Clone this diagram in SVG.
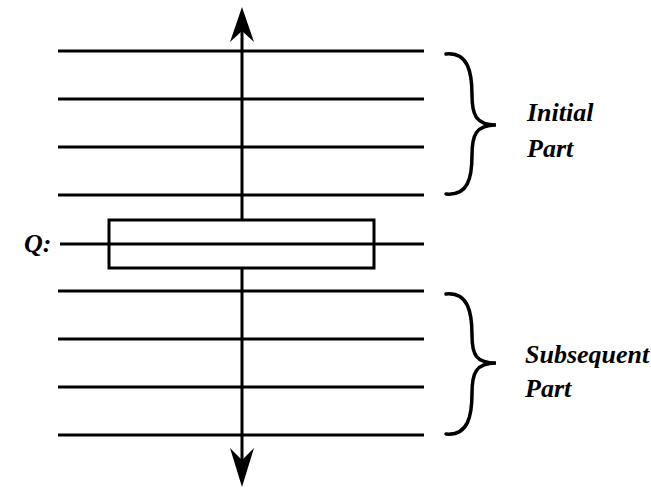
<svg xmlns="http://www.w3.org/2000/svg" width="651" height="489" viewBox="0 0 651 489">
<style>
.ln{stroke:#000;stroke-width:3;fill:none}
.br{stroke:#000;stroke-width:3.5;fill:none;stroke-linecap:round}
.lbl{font-family:"Liberation Serif",serif;font-style:italic;font-weight:bold;font-size:26px;fill:#000}
</style>
<rect width="651" height="489" fill="#fff"/>
<g id="lines">
<line class="ln" x1="58" y1="51" x2="424" y2="51"/>
<line class="ln" x1="58" y1="99" x2="424" y2="99"/>
<line class="ln" x1="58" y1="147" x2="424" y2="147"/>
<line class="ln" x1="58" y1="195" x2="424" y2="195"/>
<line class="ln" x1="58" y1="291" x2="424" y2="291"/>
<line class="ln" x1="58" y1="339" x2="424" y2="339"/>
<line class="ln" x1="58" y1="387" x2="424" y2="387"/>
<line class="ln" x1="58" y1="435" x2="424" y2="435"/>
</g>
<g id="connectors">
<line class="ln" x1="242" y1="25" x2="242" y2="470"/>
<path d="M242,7 L254,42 L242,31 L230,42 Z" fill="#000"/>
<path d="M242,487 L254,448 L242,460 L230,448 Z" fill="#000"/>
</g>
<g id="q-box">
<rect x="109" y="220" width="265" height="48" fill="#fff" stroke="#000" stroke-width="3"/>
<line class="ln" x1="60" y1="244" x2="424" y2="244"/>
<text class="lbl" x="24" y="252">Q:</text>
</g>
<g id="initial">
<path class="br" d="M446,54 C468,52 472,72 472,95 C472,115 476,125 496,125 C476,125 472,135 472,155 C472,178 468,196 446,194"/>
<text class="lbl" x="527" y="121">Initial</text>
<text class="lbl" x="527" y="157">Part</text>
</g>
<g id="subsequent">
<path class="br" d="M446,294 C468,292 472,312 472,335 C472,355 476,363 496,363 C476,363 472,373 472,393 C472,416 468,436 446,434"/>
<text class="lbl" x="525" y="363">Subsequent</text>
<text class="lbl" x="525" y="397">Part</text>
</g>
</svg>
